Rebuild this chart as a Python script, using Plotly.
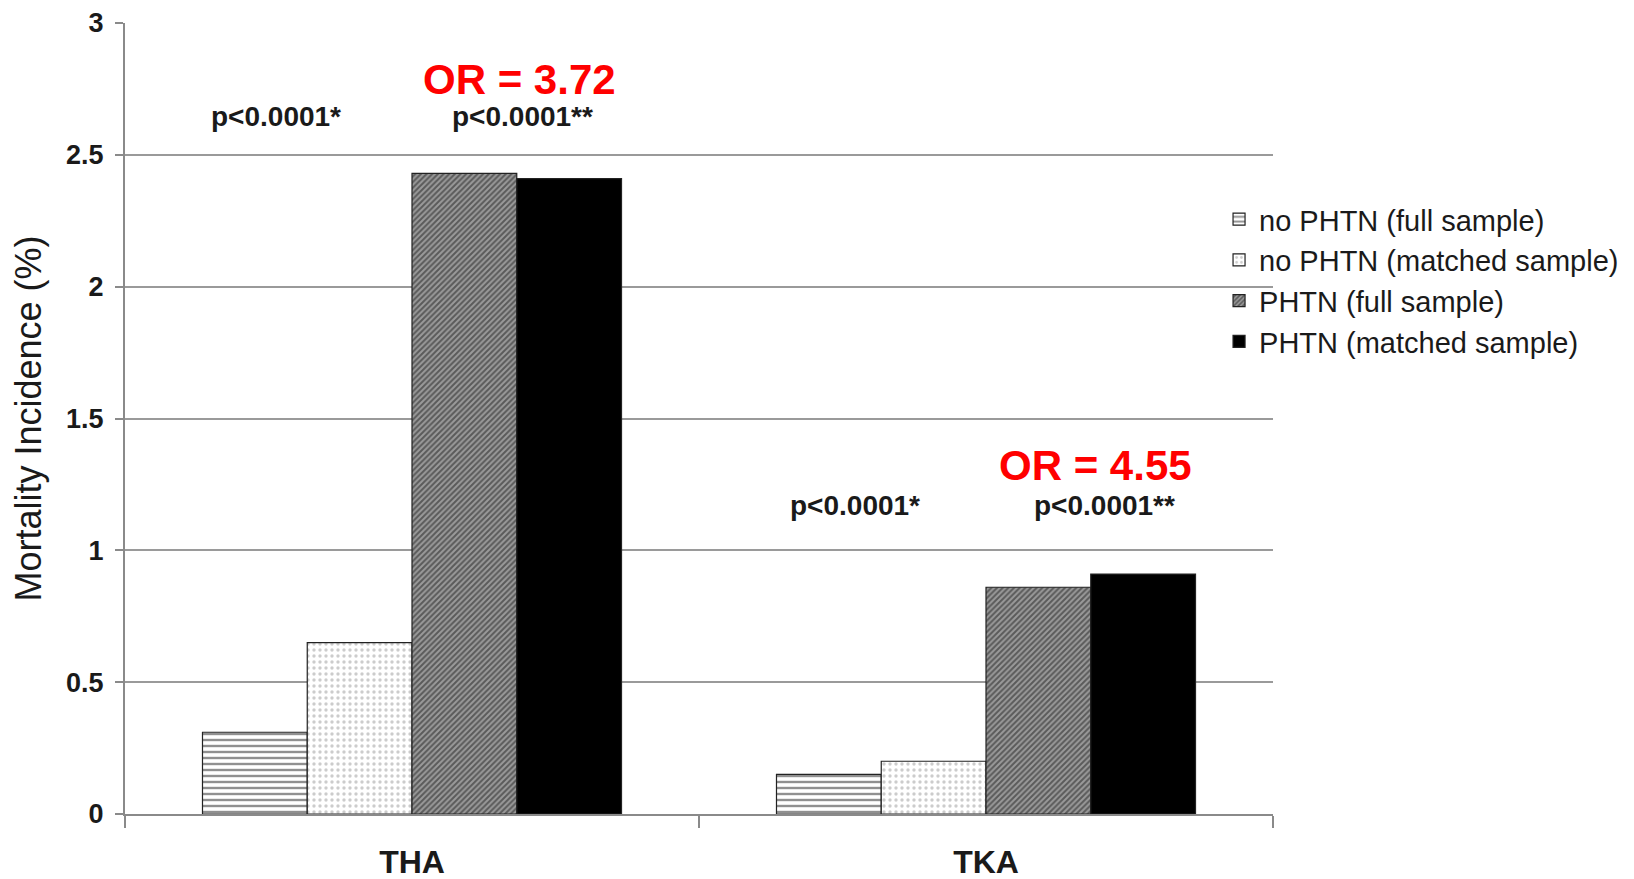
import plotly.graph_objects as go

categories = ["THA", "TKA"]
series_names = ["no PHTN (full sample)", "no PHTN (matched sample)",
                "PHTN (full sample)", "PHTN (matched sample)"]
no_phtn_full = [0.31, 0.15]
no_phtn_matched = [0.65, 0.20]
phtn_full = [2.43, 0.86]
phtn_matched = [2.41, 0.91]
y_ticks = [0, 0.5, 1, 1.5, 2, 2.5, 3]
y_tick_labels = ["0", "0.5", "1", "1.5", "2", "2.5", "3"]

p_labels = ["p<0.0001*", "p<0.0001**", "p<0.0001*", "p<0.0001**"]
p_x = [-0.237, 0.193, 0.772, 1.206]
p_y = [2.647, 2.647, 1.17, 1.17]
or_labels = ["OR = 3.72", "OR = 4.55"]
or_x = [0.188, 1.19]
or_y = [2.785, 1.322]

FONT = "Liberation Sans, Arial, sans-serif"

styles = [
    dict(color="white", pattern=dict(shape="-", fgcolor="#222222", bgcolor="white", size=6, solidity=0.4)),
    dict(color="white", pattern=dict(shape=".", fgcolor="#9a9a9a", bgcolor="white", size=6, solidity=0.25)),
    dict(color="#888888", pattern=dict(shape="/", fgcolor="#1a1a1a", bgcolor="#9a9a9a", size=4, solidity=0.5)),
    dict(color="black"),
]

fig = go.Figure()
for name, vals, st in zip(series_names,
                          [no_phtn_full, no_phtn_matched, phtn_full, phtn_matched],
                          styles):
    fig.add_trace(go.Bar(
        x=categories, y=vals, name=name,
        marker=dict(**st, line=dict(color="#222222", width=1.2)),
    ))

for t, x, y in zip(p_labels, p_x, p_y):
    fig.add_annotation(x=x, y=y, xref="x", yref="y", text=t, showarrow=False,
                       font=dict(family=FONT, size=28, color="#1a1a1a", weight="bold"))
for t, x, y in zip(or_labels, or_x, or_y):
    fig.add_annotation(x=x, y=y, xref="x", yref="y", text=t, showarrow=False,
                       font=dict(family=FONT, size=42, color="#ff0000", weight="bold"))

# the page body has an 8px default margin, so the figure is sized/offset to compensate
fig.update_layout(
    width=1626, height=871,
    margin=dict(l=117, r=361, t=15, b=65, autoexpand=False),
    paper_bgcolor="white", plot_bgcolor="white",
    barmode="group", bargap=0.27, bargroupgap=0,
    font=dict(family=FONT, color="#1a1a1a"),
    legend=dict(x=0.953, xanchor="left", y=0.784, yanchor="top",
                font=dict(family=FONT, size=29, color="#1a1a1a"),
                bgcolor="rgba(0,0,0,0)"),
    xaxis=dict(
        showline=True, linecolor="#8a8a8a", linewidth=2,
        ticks="outside", tickson="boundaries", ticklen=12, tickcolor="#8a8a8a", tickwidth=2,
        ticklabelstandoff=19, automargin=False,
        tickfont=dict(family=FONT, size=32, weight="bold", color="#1a1a1a"),
        showgrid=False, range=[-0.5, 1.5],
    ),
    yaxis=dict(
        range=[0, 3], tickvals=y_ticks, ticktext=y_tick_labels,
        showline=True, linecolor="#8a8a8a", linewidth=2,
        ticks="outside", ticklen=8, tickcolor="#8a8a8a", tickwidth=2,
        ticklabelstandoff=6, automargin=False,
        showgrid=True, gridcolor="#9a9a9a", gridwidth=2,
        zeroline=False,
        tickfont=dict(family=FONT, size=27, weight="bold", color="#1a1a1a"),
        title=dict(text="Mortality Incidence (%)", standoff=20,
                   font=dict(family=FONT, size=36, color="#1a1a1a")),
    ),
)

fig.write_html("out.html")
